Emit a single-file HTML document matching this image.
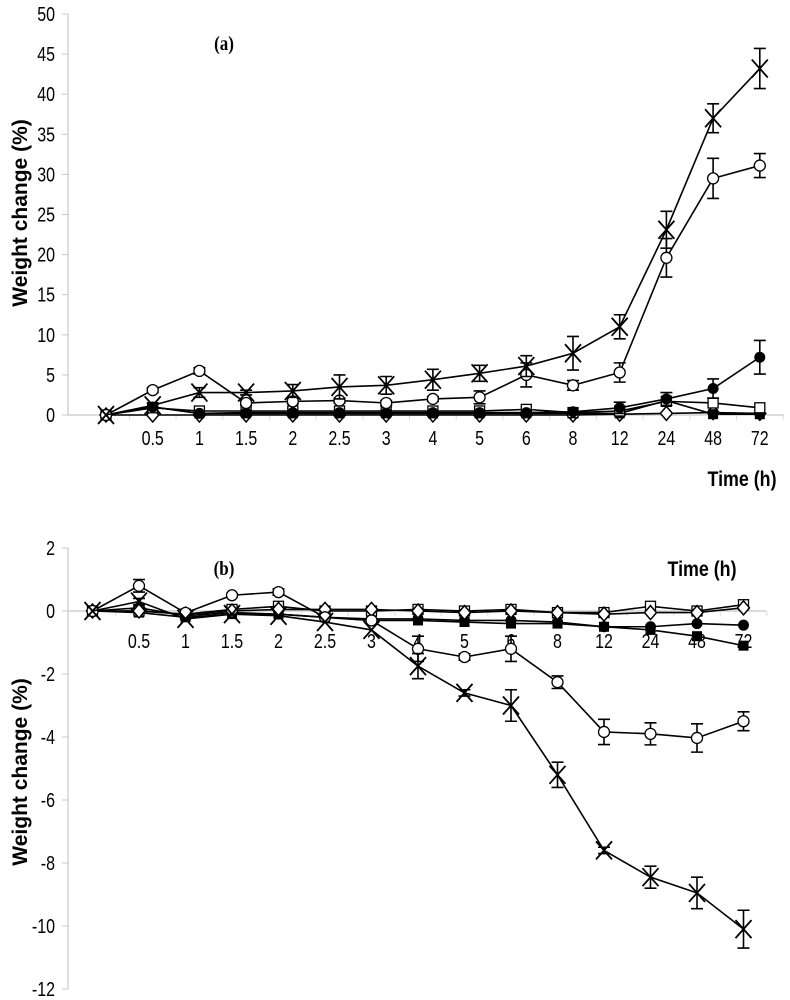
<!DOCTYPE html>
<html><head><meta charset="utf-8"><style>
body{margin:0;background:#fff;}
svg{display:block;}
.tk{font-family:"Liberation Sans",sans-serif;font-size:20px;fill:#000;}
.tt{font-family:"Liberation Sans",sans-serif;font-weight:bold;font-size:21px;fill:#000;}
.pl{font-family:"Liberation Serif",serif;font-weight:bold;font-size:20px;fill:#000;}
</style></head><body>
<svg id="c" width="790" height="1000" viewBox="0 0 790 1000"></svg>
<script>
const categories=["0","0.5","1","1.5","2","2.5","3","4","5","6","8","12","24","48","72"];
const ticksA=[0,5,10,15,20,25,30,35,40,45,50];
const ticksB=[2,0,-2,-4,-6,-8,-10,-12];
// panel (a)
const aCross=[0,1.2,2.8,2.8,3.0,3.5,3.7,4.4,5.2,6.1,7.7,11.0,23.1,37.0,43.2];
const aCrossErr=[0,0.3,0.6,0.3,0.8,1.5,1.1,1.3,1.0,1.3,2.1,1.5,2.3,1.8,2.5];
const aOpenCircle=[0,3.1,5.5,1.5,1.7,1.8,1.5,2.0,2.2,5.0,3.7,5.3,19.6,29.5,31.1];
const aOpenCircleErr=[0,0.3,0.4,0.3,0.3,0.3,0.3,0.3,0.8,1.5,0.6,1.2,2.4,2.5,1.5];
const aFilledCircle=[0,1.0,0.2,0.3,0.3,0.3,0.3,0.3,0.3,0.3,0.4,0.9,2.0,3.3,7.2];
const aFilledCircleErr=[0,0,0,0,0,0,0,0,0,0,0,0.7,0.8,1.2,2.1];
const aOpenSquare=[0,0.9,0.5,0.5,0.5,0.5,0.5,0.5,0.5,0.7,0.3,0.5,1.7,1.5,0.9];
const aFilledSquare=[0,1.0,0.2,0.2,0.2,0.2,0.2,0.2,0.2,0.2,0.2,0.2,1.8,0.1,0.1];
const aDiamond=[0,0,0,0,0,0,0,0,0,0,0,0.1,0.2,0.3,0.2];
// panel (b)
const bCross=[0,0.3,-0.25,-0.1,-0.15,-0.35,-0.6,-1.75,-2.6,-3.0,-5.2,-7.6,-8.45,-8.95,-10.1];
const bCrossErr=[0,0.1,0,0,0,0,0,0.4,0.1,0.5,0.4,0.1,0.35,0.5,0.6];
const bOpenCircle=[0,0.8,-0.06,0.5,0.6,-0.2,-0.3,-1.2,-1.46,-1.2,-2.26,-3.84,-3.9,-4.03,-3.5];
const bOpenCircleErr=[0,0.2,0,0.05,0.1,0,0,0.4,0.1,0.4,0.2,0.4,0.35,0.45,0.3];
const bFilledSquare=[0,-0.05,-0.2,-0.1,-0.1,-0.2,-0.3,-0.3,-0.35,-0.4,-0.4,-0.5,-0.6,-0.8,-1.1];
const bFilledCircle=[0,0.1,-0.15,-0.05,-0.1,-0.2,-0.25,-0.25,-0.3,-0.3,-0.35,-0.5,-0.5,-0.4,-0.45];
const bOpenSquare=[0,0,-0.1,0.05,0.15,0,0,0.05,0,0.05,-0.05,-0.05,0.15,0,0.2];
const bDiamond=[0,0,-0.1,0,0.05,0.05,0.05,0,-0.05,0,-0.05,-0.1,-0.05,-0.05,0.1];

const NS="http://www.w3.org/2000/svg";
const svg=document.getElementById('c');
function mk(tag,at,parent){const e=document.createElementNS(NS,tag);for(const k in at)e.setAttribute(k,at[k]);(parent||svg).appendChild(e);return e;}
function narrow(parent,x,y,anchor,cls,s,k){
  const t=mk('text',{x:0,y:0,'text-anchor':anchor,class:cls,transform:`translate(${x},${y}) scale(${k},1)`},parent);
  t.textContent=s;return t;
}

function panel(o){
  const g=mk('g',{});
  
  
  const xs=i=>o.x0+i*o.dx;
  const ys=v=>o.yZero-(v)*o.ppu;
  const ya=mk('line',{x1:o.axX,x2:o.axX,y1:ys(o.yMax),y2:ys(o.yMin),stroke:'#c8c8c8','stroke-width':1.2},g);
  
  
  o.yTicks.forEach(t=>{
    mk('line',{x1:o.axX-6,x2:o.axX,y1:ys(t),y2:ys(t),stroke:'#c8c8c8'},g);
    const tx=narrow(g,o.axX-13,ys(t)+7,'end','tk',t,0.8);
    
    
  });
  const xa=mk('line',{x1:o.axX,x2:o.axEnd,y1:ys(0),y2:ys(0),stroke:'#c8c8c8','stroke-width':1.2},g);
  
  
  categories.forEach((c,i)=>{
    mk('line',{x1:xs(i)+o.dx/2,x2:xs(i)+o.dx/2,y1:ys(0),y2:ys(0)+5,stroke:'#dcdcdc'},g);
    if(i===0)return;
    const tx=narrow(g,xs(i),ys(0)+o.labOff,'middle','tk',c,0.8);
    
    
  });
  o.series.forEach(s=>{
    const sg=mk('g',{},g);
    
    
    const pts=s.v.map((v,i)=>xs(i)+','+ys(v)).join(' ');
    mk('polyline',{points:pts,fill:'none',stroke:'#000','stroke-width':1.6},sg);
    s.v.forEach((v,i)=>{
      const x=xs(i),y=ys(v);
      if(s.err&&s.err[i]>0){
        const e=s.err[i];
        mk('path',{d:`M${x},${ys(v+e)}V${ys(v-e)}M${x-6},${ys(v+e)}H${x+6}M${x-6},${ys(v-e)}H${x+6}`,stroke:'#000','stroke-width':1.6,fill:'none'},sg);
      }
      let m;
      if(s.m==='x'){m=mk('path',{d:`M${x-8},${y-9}L${x+8},${y+9}M${x-8},${y+9}L${x+8},${y-9}`,stroke:'#000','stroke-width':1.8},sg);}
      else if(s.m==='oc'){m=mk('circle',{cx:x,cy:y,r:5.5,fill:'#fff',stroke:'#000','stroke-width':1.3},sg);}
      else if(s.m==='fc'){m=mk('circle',{cx:x,cy:y,r:5.5,fill:'#000'},sg);}
      else if(s.m==='os'){m=mk('rect',{x:x-5,y:y-5,width:10,height:10,fill:'#fff',stroke:'#000','stroke-width':1.3},sg);}
      else if(s.m==='fs'){m=mk('rect',{x:x-5,y:y-5,width:10,height:10,fill:'#000'},sg);}
      else {m=mk('path',{d:`M${x},${y-7}L${x+6},${y}L${x},${y+7}L${x-6},${y}Z`,fill:'#fff',stroke:'#000','stroke-width':1.5},sg);}
      
      
    });
  });
  const p=narrow(g,o.plX,o.plY,'middle','pl',o.panel,0.85);
  
  
  const t=narrow(g,o.tX,o.tY,'middle','tt','Time (h)',0.85);
  
  
  const yt=mk('text',{x:0,y:0,'text-anchor':'middle',class:'tt',transform:`translate(${o.ytX},${o.ytY}) rotate(-90)`},g);yt.textContent='Weight change (%)';
  
  
}

panel({name:'chart-a',panel:'(a)',x0:106,dx:46.7,axX:68,axEnd:784,yZero:415,ppu:8.02,yMin:0,yMax:50,yTicks:ticksA,labOff:30,
  plX:224,plY:50,tX:742,tY:486,ytX:27,ytY:213,
  series:[
    {name:'series-diamond',v:aDiamond,m:'d'},
    {name:'series-filled-square',v:aFilledSquare,m:'fs'},
    {name:'series-open-square',v:aOpenSquare,m:'os'},
    {name:'series-filled-circle',v:aFilledCircle,err:aFilledCircleErr,m:'fc'},
    {name:'series-open-circle',v:aOpenCircle,err:aOpenCircleErr,m:'oc'},
    {name:'series-cross',v:aCross,err:aCrossErr,m:'x'}]});

panel({name:'chart-b',panel:'(b)',x0:92.5,dx:46.5,axX:68,axEnd:766,yZero:611,ppu:31.5,yMin:-12,yMax:2,yTicks:ticksB,labOff:37,
  plX:224,plY:575,tX:702,tY:576,ytX:27,ytY:772,
  series:[
    {name:'series-filled-circle',v:bFilledCircle,m:'fc'},
    {name:'series-filled-square',v:bFilledSquare,m:'fs'},
    {name:'series-open-square',v:bOpenSquare,m:'os'},
    {name:'series-diamond',v:bDiamond,m:'d'},
    {name:'series-open-circle',v:bOpenCircle,err:bOpenCircleErr,m:'oc'},
    {name:'series-cross',v:bCross,err:bCrossErr,m:'x'}]});
</script>
</body></html>
